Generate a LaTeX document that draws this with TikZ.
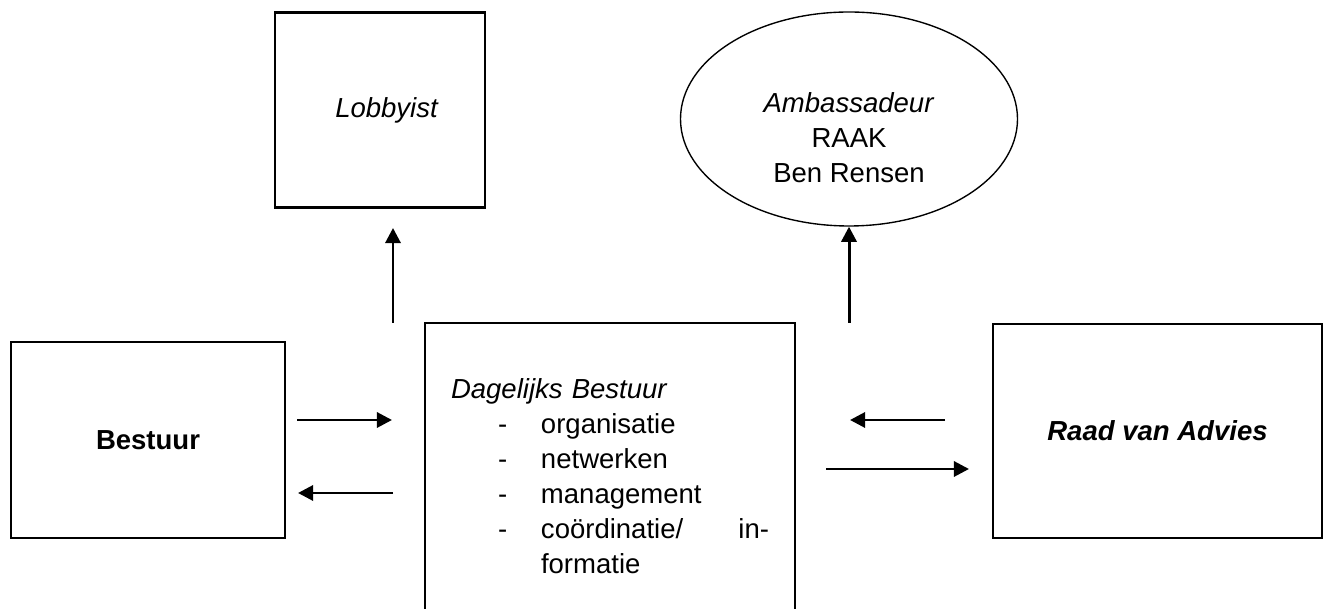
\documentclass[tikz,border=0pt]{standalone}
\usepackage{fontspec}
\setmainfont{Liberation Sans}
\usetikzlibrary{positioning, shapes.geometric, arrows.meta}
\newlength{\pxu}
\setlength{\pxu}{0.436pt}

\begin{document}
\begin{tikzpicture}[
      x = \pxu, y = -\pxu,
      font = \fontsize{12}{15.3}\selectfont,
      box/.style = {draw, line width = 1pt, inner sep = 0pt},
      arr/.style = {-{Triangle[length = 6.6pt, width = 6.6pt]}, line width = 1.3pt}]

      \clip (0,0) rectangle (1337,609);

      % boxes
      \node [box, minimum width = 210*\pxu, minimum height = 195*\pxu] (lobbyist) at (380,110) {\hspace*{14\pxu}\textit{Lobbyist}};
      \node [box, ellipse, line width = 0.6pt, minimum width = 337*\pxu, minimum height = 214*\pxu] (ambassadeur) at (849,119) {};
      \node [align = center] (ambtext) at (849,138) {\textit{Ambassadeur}\\RAAK\\Ben Rensen};
      \node [box, minimum width = 274*\pxu, minimum height = 196*\pxu] (bestuur) at (148,440) {\textbf{Bestuur}};
      \node [box, minimum width = 329*\pxu, minimum height = 214*\pxu] (raad) at (1157.5,431) {\textbf{\textit{Raad van Advies}}};
      \node [box, align = left, text width = 318*\pxu, minimum width = 370*\pxu, minimum height = 306*\pxu] (dagelijks) at (610,476) {%
        \textit{Dagelijks Bestuur}\\
        \hspace*{47\pxu}\makebox[43\pxu][l]{-}organisatie\\
        \hspace*{47\pxu}\makebox[43\pxu][l]{-}netwerken\\
        \hspace*{47\pxu}\makebox[43\pxu][l]{-}management\\
        \hspace*{47\pxu}\makebox[43\pxu][l]{-}\makebox[228\pxu][s]{coördinatie/\hfill in-}\\
        \hspace*{90\pxu}formatie};

      % free arrow ends
      \coordinate (lobbytail) at (393,323);
      \coordinate (lobbyhead) at (393,228);
      \coordinate (ambtail) at (849,323);
      \coordinate (bestuurout) at (297,420);
      \coordinate (bestuurin) at (298,493);
      \coordinate (dagelijksin) at (392,420);
      \coordinate (dagelijksout) at (393,493);
      \coordinate (raadout) at (945,420);
      \coordinate (raadin) at (850,420);
      \coordinate (dbout) at (826,469);
      \coordinate (dbin) at (969,469);

      % arrows
      \draw [arr] (lobbytail) -- (lobbyhead);
      \draw [arr] (ambtail) -- (ambassadeur.south);
      \draw [arr] (bestuurout) -- (dagelijksin);
      \draw [arr] (dagelijksout) -- (bestuurin);
      \draw [arr] (raadout) -- (raadin);
      \draw [arr] (dbout) -- (dbin);
\end{tikzpicture}
\end{document}
